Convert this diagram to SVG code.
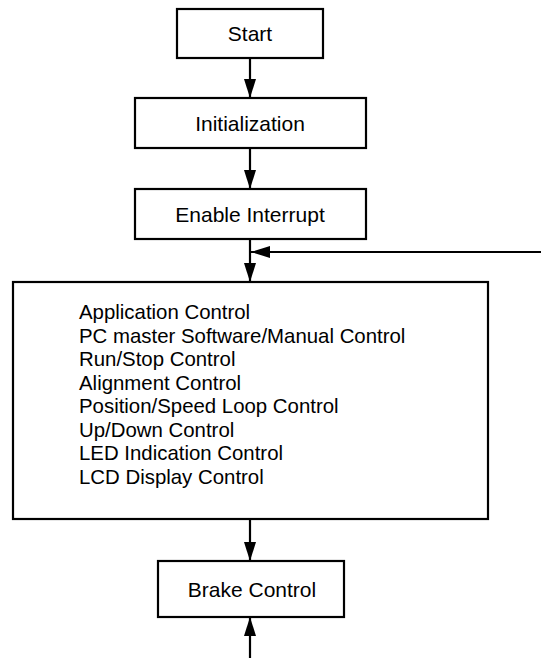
<svg xmlns="http://www.w3.org/2000/svg" width="541" height="658" viewBox="0 0 541 658">
<style>
.box{fill:#fff;stroke:#000;stroke-width:2.2}
.t{font-family:"Liberation Sans",Arial,sans-serif;font-size:20.4px;fill:#000}
.s{font-size:21px;text-anchor:middle}
.ln{stroke:#000;stroke-width:2.2;fill:none}
</style>
<defs>
<marker id="ah" viewBox="0 0 19 12" refX="19" refY="6" markerWidth="19" markerHeight="12" markerUnits="userSpaceOnUse" orient="auto">
<path d="M0,0 L19,6 L0,12 Z" fill="#000"/>
</marker>
</defs>
<g id="connectors">
<line class="ln" x1="250" y1="58" x2="250" y2="98" marker-end="url(#ah)"/>
<line class="ln" x1="250" y1="148" x2="250" y2="189" marker-end="url(#ah)"/>
<line class="ln" x1="250" y1="239" x2="250" y2="282" marker-end="url(#ah)"/>
<line class="ln" x1="541" y1="252" x2="251" y2="252" marker-end="url(#ah)"/>
<line class="ln" x1="250" y1="519" x2="250" y2="561" marker-end="url(#ah)"/>
<line class="ln" x1="250" y1="658" x2="250" y2="617" marker-end="url(#ah)"/>
</g>
<g id="start"><rect class="box" x="177" y="9" width="146" height="49"/><text class="t s" x="250" y="41">Start</text></g>
<g id="init"><rect class="box" x="135" y="98" width="231" height="50"/><text class="t s" x="250" y="131">Initialization</text></g>
<g id="enable"><rect class="box" x="135" y="189" width="231" height="50"/><text class="t s" x="250" y="222">Enable Interrupt</text></g>
<g id="main"><rect class="box" x="13" y="282" width="475" height="237"/>
<text class="t" x="79" y="319">Application Control</text>
<text class="t" x="79" y="342.5">PC master Software/Manual Control</text>
<text class="t" x="79" y="366">Run/Stop Control</text>
<text class="t" x="79" y="389.5">Alignment Control</text>
<text class="t" x="79" y="413">Position/Speed Loop Control</text>
<text class="t" x="79" y="436.5">Up/Down Control</text>
<text class="t" x="79" y="460">LED Indication Control</text>
<text class="t" x="79" y="483.5">LCD Display Control</text>
</g>
<g id="brake"><rect class="box" x="158" y="561" width="186" height="56"/><text class="t s" x="252" y="596.5">Brake Control</text></g>
</svg>
